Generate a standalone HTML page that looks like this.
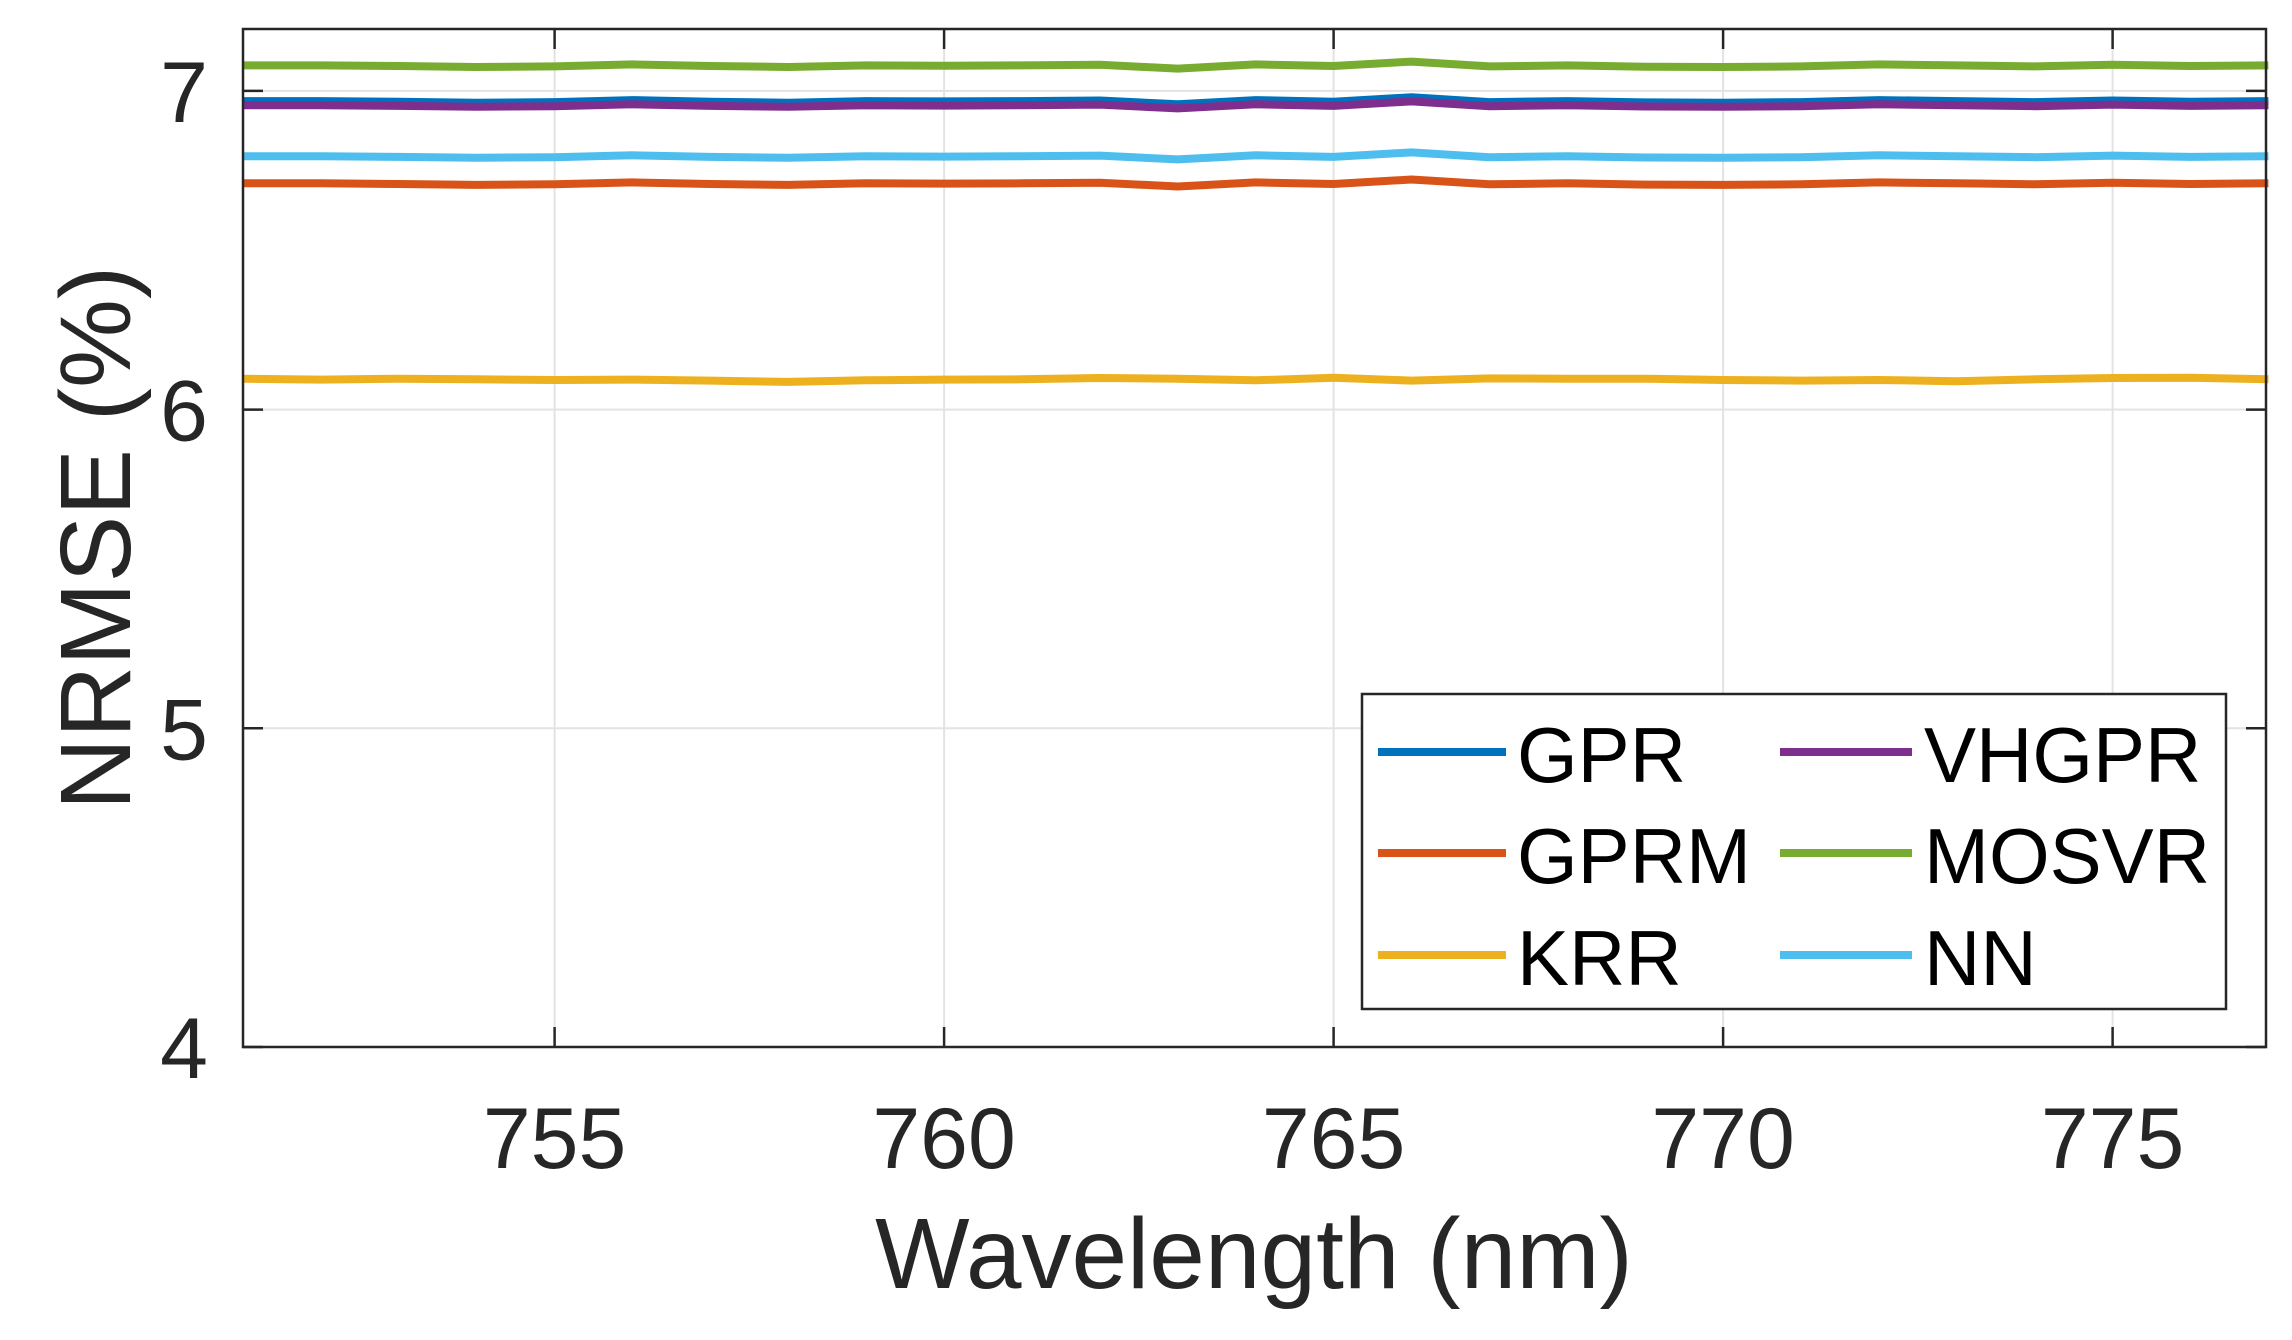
<!DOCTYPE html>
<html><head><meta charset="utf-8"><style>
html,body{margin:0;padding:0;background:#fff;}
svg{display:block;font-family:"Liberation Sans",Arial,sans-serif;}
</style></head><body>
<svg id="s" width="2292" height="1340" viewBox="0 0 2292 1340" xmlns="http://www.w3.org/2000/svg">
<rect width="2292" height="1340" fill="#fff"/>
<g id="grid" stroke="#e3e3e3" stroke-width="2"></g>
<g id="lines" fill="none" stroke-width="8" stroke-linejoin="round"></g>
<rect x="243" y="29" width="2023" height="1018" fill="none" stroke="#262626" stroke-width="2.5"/>
<g id="ticks" stroke="#262626" stroke-width="2.5"></g>
<g id="labels" fill="#262626" font-size="86"></g>
<text x="1254" y="1288" text-anchor="middle" font-size="100" fill="#262626">Wavelength (nm)</text>
<text transform="translate(130,538) rotate(-90)" text-anchor="middle" font-size="100" fill="#262626">NRMSE (%)</text>
<rect x="1362" y="694" width="864" height="315" fill="#fff" stroke="#262626" stroke-width="2.5"/>
<g stroke-width="8">
<line x1="1378" y1="752" x2="1506" y2="752" stroke="#0072BD"/>
<line x1="1378" y1="853" x2="1506" y2="853" stroke="#D95319"/>
<line x1="1378" y1="955" x2="1506" y2="955" stroke="#EDB120"/>
<line x1="1780" y1="752" x2="1912" y2="752" stroke="#7E2F8E"/>
<line x1="1780" y1="853" x2="1912" y2="853" stroke="#77AC30"/>
<line x1="1780" y1="955" x2="1912" y2="955" stroke="#4DBEEE"/>
</g>
<g font-size="78" fill="#000">
<text x="1517" y="782">GPR</text>
<text x="1517" y="883">GPRM</text>
<text x="1517" y="985">KRR</text>
<text x="1924" y="782">VHGPR</text>
<text x="1924" y="883">MOSVR</text>
<text x="1924" y="985">NN</text>
</g>
</svg>
<script>
var NS="http://www.w3.org/2000/svg";
function X(w){return 243+(w-751)*77.9;}
function Y(v){return 1047-(v-4)*318.7;}
function el(p,t,a,txt){var e=document.createElementNS(NS,t);for(var k in a)e.setAttribute(k,a[k]);if(txt!==undefined)e.textContent=txt;document.getElementById(p).appendChild(e);}
[755,760,765,770,775].forEach(function(w){var x=X(w);
 el("grid","line",{x1:x,y1:29,x2:x,y2:1047});
 el("ticks","line",{x1:x,y1:1047,x2:x,y2:1027});
 el("ticks","line",{x1:x,y1:29,x2:x,y2:49});
 el("labels","text",{x:x,y:1168,"text-anchor":"middle"},String(w));});
[4,5,6,7].forEach(function(v){var y=Y(v);
 if(v>4){el("grid","line",{x1:243,y1:y,x2:2266,y2:y});}
 el("ticks","line",{x1:243,y1:y,x2:263,y2:y});
 el("ticks","line",{x1:2266,y1:y,x2:2246,y2:y});
 el("labels","text",{x:208,y:y+31,"text-anchor":"end"},String(v));});
var off=[0,0,-0.2,-0.5,-0.3,0.3,-0.2,-0.5,0,-0.1,0,0.2,-1,0.3,-0.2,1.2,-0.3,0,-0.4,-0.5,-0.3,0.3,0,-0.3,0.2,-0.2,0];
var koff=[0,-0.3,0,-0.2,-0.4,-0.3,-0.6,-1,-0.5,-0.3,-0.2,0.2,0,-0.5,0.3,-0.6,0.1,0,0,-0.4,-0.6,-0.4,-0.8,-0.2,0.2,0.3,-0.2];
var series=[["#77AC30",7.08,off],["#0072BD",6.968,off],["#7E2F8E",6.955,off],["#4DBEEE",6.795,off],["#D95319",6.71,off],["#EDB120",6.097,koff]];
series.forEach(function(s){var pts=[];for(var i=0;i<27;i++){pts.push(X(751+i).toFixed(1)+","+Y(s[1]+s[2][i]*0.01).toFixed(1));}
 el("lines","polyline",{points:pts.join(" "),stroke:s[0]});});
</script>
</body></html>
